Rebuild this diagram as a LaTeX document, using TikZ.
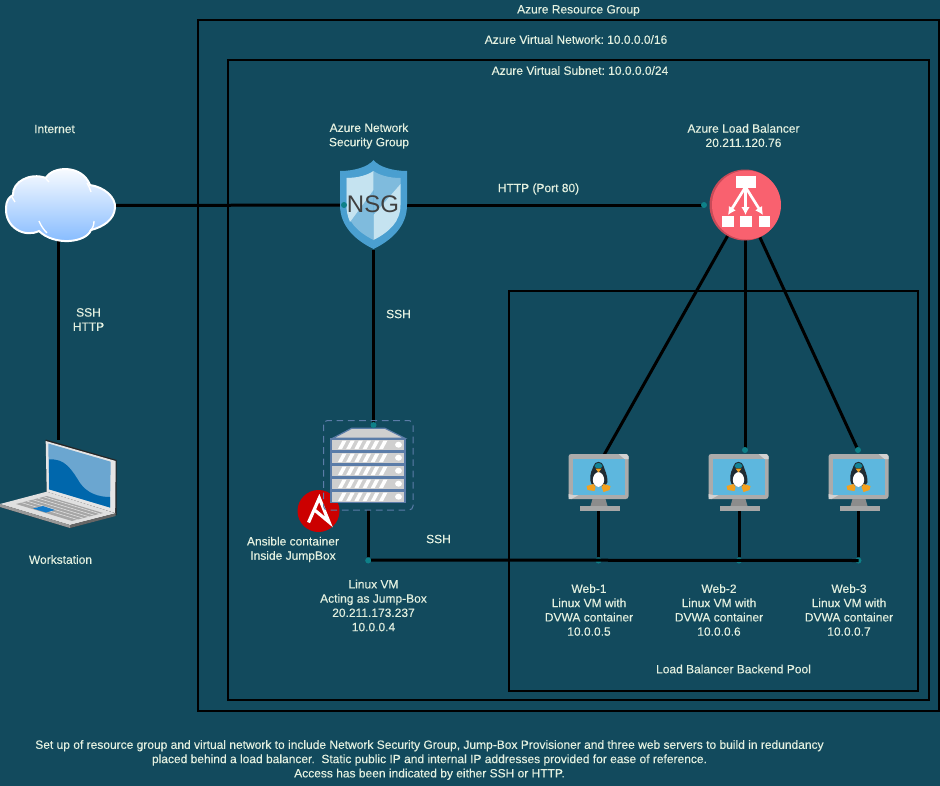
\documentclass[tikz,border=0pt]{standalone}
\usepackage{fontspec}
\setmainfont{Liberation Sans}
\newfontfamily\lblfont[FakeBold=0.15]{Liberation Sans}
\frenchspacing
\definecolor{bgc}{HTML}{124A5D}
\definecolor{txt}{HTML}{E4F1E0}
\definecolor{dotc}{HTML}{0E8088}
\definecolor{srv}{HTML}{CFCFCF}
\definecolor{srvb}{HTML}{5B7CA8}
\definecolor{scr}{HTML}{5DB7DE}
\definecolor{pdark}{HTML}{1F2B33}
\definecolor{pteal}{HTML}{138496}
\definecolor{porange}{HTML}{F2A11F}
\definecolor{shA}{HTML}{4A9FD0}
\definecolor{shB}{HTML}{C5E3F0}
\definecolor{shC}{HTML}{7FBBDD}
\definecolor{lbred}{HTML}{F9616F}
\definecolor{lbdark}{HTML}{C94A58}
\definecolor{ansi}{HTML}{CC0000}
\definecolor{lapA}{HTML}{0067AC}
\definecolor{lapB}{HTML}{6BA6D0}
\definecolor{cloudb}{HTML}{80B8FF}
\usetikzlibrary{arrows.meta,calc}
\tikzset{
  zonebox/.style={draw=black,line width=1.5pt,fill=none},
  wire/.style={draw=black,line width=2.25pt},
  lbl/.style={text=txt,font=\lblfont\fontsize{9}{10.7}\selectfont,align=center,inner sep=0pt},
  hook/.style={inner sep=0pt,minimum width=#1,minimum height=#1},
  tealdot/.style={circle,fill=dotc,inner sep=0pt,minimum size=4.5pt},
  lbarrow/.style={white,line width=2pt,-{Latex[length=6pt,width=6.5pt]}},
}
\newcommand{\linuxmonitor}[2]{%
  \begin{scope}[shift={(#1,#2)}]
    \fill[rounded corners=2pt,black!33] (0,0) rectangle (60,45);
    \fill[black!18] (50,0) -- (58,0) -- (60,2) -- (60,5) -- (56,5) -- cycle;
    \fill[black!18] (0,45) -- (0,40) -- (4.5,41) -- (10,41) -- (3,45) -- cycle;
    \fill[scr] (4.5,5) rectangle (56,41);
    \fill[black!45] (24,45) -- (37,45) -- (39,52) -- (22,52) -- cycle;
    \fill[black!35] (11,52) rectangle (51,57);
    \fill[pdark] (22,27) .. controls (21,18) and (24,16) .. (25,12) .. controls (26,6.5) and (34,6.5) .. (35,12)
       .. controls (36,16) and (39,20) .. (39,28) .. controls (38,34) and (22,34) .. (22,27) -- cycle;
    \fill[white] (30,18) .. controls (23,19) and (22,32) .. (30,33) .. controls (38,32) and (37,19) .. (30,18) -- cycle;
    \fill[pteal] (26,12) .. controls (27,8) and (33,8) .. (34,12) .. controls (34,15) and (26,15) .. (26,12) -- cycle;
    \fill[porange] (27,14.5) -- (33,14.5) -- (30,18.5) -- cycle;
    \fill[porange] (25,30) -- (18,32) -- (19,36) -- (26,37) -- (27,33) -- cycle;
    \fill[porange] (35,30) -- (42,32) -- (41,36) -- (35,38) -- (33,33) -- cycle;
  \end{scope}}
\newcommand{\rackslab}[1]{%
  \fill[srv,draw=srvb,line width=0.9pt] (331,#1) rectangle +(74,11.5);
  \foreach \k in {0,1,2,3,4,5}{
    \fill[white] ({338+\k*8.2},#1+10) -- ({342+\k*8.2},#1+10) -- ({346.5+\k*8.2},#1+1.5) -- ({342.5+\k*8.2},#1+1.5) -- cycle;
  }
  \fill[white] (398.5,#1+5.7) ellipse (3.4 and 3);
}
\begin{document}
\begin{tikzpicture}[x=0.75pt,y=-0.75pt]
\useasboundingbox (0,0) rectangle (940,786);
\fill[bgc] (0,0) rectangle (940,786);

% zones
\node[zonebox,inner sep=0pt,minimum width=740.5*0.75pt,minimum height=691*0.75pt] (rg) at (568.25,365.5) {};
\node[zonebox,inner sep=0pt,minimum width=701*0.75pt,minimum height=640*0.75pt] (vnet) at (578.5,380) {};
\node[zonebox,inner sep=0pt,minimum width=409*0.75pt,minimum height=400*0.75pt] (pool) at (713.5,490.5) {};

% anchors for connectors (invisible)
\node[hook=0pt,minimum width=82.5pt,minimum height=52.5pt] (cloud) at (58.5,205.5) {};
\node[hook=0pt,minimum width=48pt,minimum height=67pt] (nsg) at (373.5,205) {};
\node[circle,inner sep=0pt,minimum size=52.5pt] (lb) at (745,205) {};
\node[hook=0pt,minimum width=53pt,minimum height=49.5pt] (laptop) at (58.5,473) {};
\node[hook=0pt,minimum width=67pt,minimum height=67pt] (jump) at (368.2,465) {};
\node[hook=0pt,minimum width=45pt,minimum height=43pt] (web1) at (598.5,482.5) {};
\node[hook=0pt,minimum width=45pt,minimum height=43pt] (web2) at (739,482.5) {};
\node[hook=0pt,minimum width=45pt,minimum height=43pt] (web3) at (858.5,482.5) {};
\coordinate (nsgin) at (344,205);
\coordinate (lbin) at (704,205);
\coordinate (jumpin) at (373.5,425);
\coordinate (web1in) at (604,455);
\coordinate (web2in) at (745,450);
\coordinate (web3in) at (858,450);
\node[tealdot] (d9) at (368.2,560.5) {};
\node[tealdot] (d6) at (598.5,560.5) {};
\node[tealdot] (d7) at (739,560.5) {};
\node[tealdot] (d8) at (858.5,560.5) {};

% connectors
\draw[wire] (cloud.east) -- (nsgin);
\draw[wire] (nsg.center) -- (lbin);
\draw[wire] (nsg.south) -- (jumpin);
\draw[wire] (cloud.south) -- (laptop.north);
\draw[wire] (lb.center) -- (web1in);
\draw[wire] (lb.center) -- (web2in);
\draw[wire] (lb.center) -- (web3in);
\draw[wire] (jump.south) -- (d9.north);
\draw[wire] (d9.center) ++(3,-0.5) -- (d8.center);
\draw[wire] (web1.south) -- (d6.north);
\draw[wire] (web2.south) -- (d7.north);
\draw[wire] (web3.south) -- (d8.north);

% cloud
\path[draw=white,line width=1.5pt,top color=white,bottom color=cloudb]
  (39,231) .. controls (25,238) and (5,228) .. (6,208)
  .. controls (6,201) and (9,197) .. (13,195)
  .. controls (12,182) and (30,172) .. (46,178)
  .. controls (52,166) and (82,164) .. (90,185)
  .. controls (104,187) and (116,197) .. (115,208)
  .. controls (114,220) and (103,227) .. (91,230)
  .. controls (86,243) and (54,246) .. (39,231) -- cycle;
\draw[white,line width=1pt] (39,221) .. controls (41,226) and (44,230) .. (47,233);
\draw[white,line width=1pt] (94,221) .. controls (94,225) and (93,228) .. (90,231);
\draw[white,line width=1pt] (45,177) .. controls (46,179) and (48,181) .. (49,182);
\draw[white,line width=1pt] (87,183) .. controls (89,186) and (90,189) .. (91,192);
\draw[white,line width=1pt] (12,197) .. controls (13,199) and (14,200) .. (15,202);

% NSG shield
\fill[shA] (340,171) .. controls (354,171) and (368,167) .. (373.5,160)
  .. controls (379,167) and (393,171) .. (407,171) -- (407,205)
  .. controls (407,226) and (392,240) .. (373.5,249)
  .. controls (355,240) and (340,226) .. (340,205) -- cycle;
\fill[shC] (346.5,178) .. controls (358,178) and (368,175) .. (373.5,171) -- (373.5,240)
  .. controls (358,232) and (346.5,222) .. (346.5,205) -- cycle;
\fill[shB] (346.5,178) .. controls (358,178) and (368,175) .. (373.5,171) -- (373.5,190) -- (350,222)
  .. controls (347.5,216) and (346.5,211) .. (346.5,205) -- cycle;
\fill[shC] (373.5,171) .. controls (379,175) and (389,178) .. (400.5,178) -- (400.5,184) -- (373.5,215) -- cycle;
\fill[shB] (400.5,184) -- (400.5,205) .. controls (400.5,222) and (389,232) .. (373.5,240) -- (373.5,215) -- cycle;
\node[inner sep=0pt,text=black!75,font=\fontsize{18}{18}\selectfont] (nsgtext) at (373,204) {NSG};

% Load balancer icon
\fill[lbdark] (745,205) circle (35.5);
\fill[lbred] (746.5,205) circle (34.5);
\fill[white] (735.5,176) rectangle (756,188);
\fill[white] (722,216) rectangle (733.5,227);
\fill[white] (740,216) rectangle (751.5,227);
\fill[white] (758.5,216) rectangle (770,227);
\draw[lbarrow] (745.5,187) -- (728,215);
\draw[lbarrow] (745.5,187) -- (745.5,215);
\draw[lbarrow] (745.5,187) -- (763,215);

% Ansible
\fill[ansi] (318.5,511) circle (21);
\draw[white,line width=2.4pt,line join=miter] (308.5,522.5) -- (319.3,498) -- (329,522) -- (314,509.5);

% JumpBox
\draw[srvb,line width=0.75pt,dash pattern=on 5pt off 3.5pt,rounded corners=3pt] (323.5,420.5) rectangle (413,510);
\fill[srv,draw=srvb,line width=0.9pt] (332.7,438.3) -- (351.7,428.3) -- (385,428.3) -- (405,438.3) -- cycle;
\rackslab{439}
\rackslab{452}
\rackslab{465}
\rackslab{478}
\rackslab{491}

% Laptop
\fill[black!85] (0,507) -- (70,528) -- (116.5,515) -- (116.7,460) -- (45.7,439.5) -- (46.7,491.7) -- cycle;
\fill[black!10] (45.7,441) -- (115.7,461) -- (115.2,513) -- (46.7,491.7) -- cycle;
\fill[lapB] (48.3,443.5) -- (110.7,461.7) -- (110,507.5) -- (49,489.3) -- cycle;
\fill[lapA] (49,459.5) .. controls (65,458) and (72,470) .. (80,483) .. controls (87,493) and (98,497) .. (110,497)
  -- (110,507.5) -- (49,489.3) -- cycle;
\fill[black!12] (0,504) -- (46.7,491.7) -- (115.7,513.3) -- (70,525) -- cycle;
\fill[black!35] (16,504) -- (46.7,496) -- (103,513) -- (72,521) -- cycle;
\foreach \t in {0.18,0.36,0.54,0.72,0.9}{
  \draw[black!10,line width=0.4pt] ($(16,504)!\t!(46.7,496)$) -- ($(72,521)!\t!(103,513)$);
}
\fill[black!40] (0,504) -- (70,525) -- (70,528) -- (0,507) -- cycle;
\fill[black!60] (70,525) -- (115.7,513.3) -- (115.7,516) -- (70,528) -- cycle;
\fill[cyan!60!blue] (33,508.5) -- (43,506) -- (55,510) -- (46,512.5) -- cycle;

% monitors
\linuxmonitor{568.5}{454}
\linuxmonitor{708.5}{454}
\linuxmonitor{828.5}{454}

% dots
\node[tealdot] (d1) at (nsgin) {};
\node[tealdot] (d2) at (lbin) {};
\node[tealdot] (d3) at (jumpin) {};
\node[tealdot] (d4) at (web2in) {};
\node[tealdot] (d5) at (web3in) {};

% labels
\node[lbl] (t1) at (578.5,10.5) {Azure Resource Group};
\node[lbl] (t2) at (576,39.5) {Azure Virtual Network: 10.0.0.0/16};
\node[lbl] (t3) at (580,70.5) {Azure Virtual Subnet: 10.0.0.0/24};
\node[lbl] (t4) at (54.5,129) {Internet};
\node[lbl] (t5) at (369,136) {Azure Network\\Security Group};
\node[lbl] (t6) at (743.5,135.5) {Azure Load Balancer\\20.211.120.76};
\node[lbl] (t7) at (538.5,189) {HTTP (Port 80)};
\node[lbl] (t8) at (88.5,319.5) {SSH\\HTTP};
\node[lbl] (t9) at (398.5,314) {SSH};
\node[lbl] (t10) at (438.5,539) {SSH};
\node[lbl] (t11) at (293,549.5) {Ansible container\\Inside JumpBox};
\node[lbl] (t12) at (373.5,605.5) {Linux VM\\Acting as Jump-Box\\20.211.173.237\\10.0.0.4};
\node[lbl] (t13) at (60.5,559.5) {Workstation};
\node[lbl] (t14) at (589,610) {Web-1\\Linux VM with\\DVWA container\\10.0.0.5};
\node[lbl] (t15) at (719,610) {Web-2\\Linux VM with\\DVWA container\\10.0.0.6};
\node[lbl] (t16) at (849,610) {Web-3\\Linux VM with\\DVWA container\\10.0.0.7};
\node[lbl] (t17) at (733.5,669) {Load Balancer Backend Pool};
\node[lbl] (t18) at (429.5,760) {Set up of resource group and virtual network to include Network Security Group, Jump-Box Provisioner and three web servers to build in redundancy\\placed behind a load balancer.\ \ Static public IP and internal IP addresses provided for ease of reference.\\Access has been indicated by either SSH or HTTP.};
\end{tikzpicture}
\end{document}
